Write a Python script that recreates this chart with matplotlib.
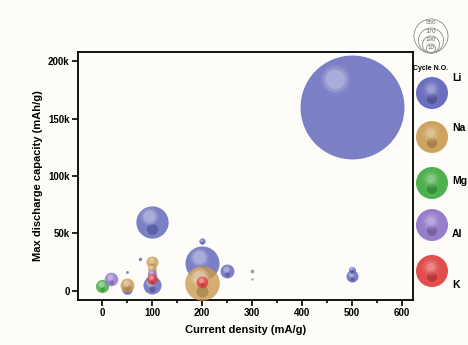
import numpy as np
import matplotlib.pyplot as plt
from matplotlib.colors import to_rgb
from matplotlib.patches import Circle
import matplotlib.transforms as mtransforms

plt.rcParams['font.family'] = ['Liberation Sans', 'DejaVu Sans']
plt.rcParams['font.weight'] = 'bold'

# current density (mA/g), max discharge capacity (mAh/g), cycle number
li_x = [500, 100, 200, 200, 250, 500, 500, 100, 50, 50, 75, 300, 300]
li_y = [160000, 60000, 24000, 43000, 17000, 13000, 18500, 5000, 2000, 16000, 28000, 17000, 10000]
li_cyc = [5600, 540, 600, 20, 100, 75, 25, 170, 60, 4, 6, 8, 3]

na_x = [200, 100, 50, 100]
na_y = [7000, 25000, 5000, 19000]
na_cyc = [620, 75, 100, 40]

mg_x = [0]
mg_y = [4000]
mg_cyc = [90]

al_x = [18, 100]
al_y = [10000, 15000]
al_cyc = [95, 45]

k_x = [200, 100]
k_y = [8000, 10000]
k_cyc = [70, 60]

grey_x = [300, 300]

elements = ['Li', 'Na', 'Mg', 'Al', 'K']
colors = {'Li': '#5b60b8', 'Na': '#c9994f', 'Mg': '#3ca83c', 'Al': '#8d6fc6', 'K': '#e03a3a'}
series = {
    'Li': (li_x, li_y, li_cyc),
    'Na': (na_x, na_y, na_cyc),
    'Mg': (mg_x, mg_y, mg_cyc),
    'Al': (al_x, al_y, al_cyc),
    'K': (k_x, k_y, k_cyc),
}
size_legend = [550, 370, 190, 10]


def lighten(c, f):
    r = np.array(to_rgb(c))
    return tuple(r + (1 - r) * f)


def darken(c, f):
    return tuple(np.array(to_rgb(c)) * (1 - f))


def sphere(ax, x, y, s, color, alpha=0.8):
    # base ball then a few lighter layers to fake the shading
    r_pt = np.sqrt(s) / 2
    big = r_pt > 25
    ax.scatter([x], [y], s=s, color=color, alpha=alpha, lw=0, zorder=3)
    if r_pt < 2:
        return
    if not big:
        dark = mtransforms.offset_copy(ax.transData, fig=ax.figure, x=0, y=-0.45 * r_pt, units='points')
        ax.scatter([x], [y], s=s * 0.12, color=darken(color, 0.25), alpha=0.55, lw=0, zorder=3,
                   transform=dark)
        k, dx, dy = 0.35, -0.2, 0.35
    else:
        k, dx, dy = 0.09, -0.33, 0.55
    for i, f in enumerate([0.3, 0.5, 0.7]):
        tr = mtransforms.offset_copy(ax.transData, fig=ax.figure, x=dx * r_pt, y=dy * r_pt, units='points')
        ax.scatter([x], [y], s=s * k * (1 - 0.3 * i), color=lighten(color, f), alpha=0.4, lw=0,
                   zorder=3, transform=tr)


fig = plt.figure(figsize=(4.68, 3.45), dpi=100)
fig.patch.set_facecolor('#fdfcf9')
ax = fig.add_axes([0.1667, 0.1304, 0.7158, 0.7189])
ax.set_facecolor('#fdfcf9')

for el in elements:
    xs, ys, cs = series[el]
    for x, y, c in sorted(zip(xs, ys, cs), key=lambda t: -t[2]):
        col = colors[el]
        if el == 'Li' and x in grey_x:
            col = '#8a8a9a'
        sphere(ax, x, y, c, col)

ax.set_xlim(-48, 622)
ax.set_ylim(-8000, 208000)
ax.set_xticks(range(0, 601, 100))
ax.set_xticks(range(50, 601, 100), minor=True)
ax.set_yticks(range(0, 200001, 50000))
ax.set_yticklabels(['0', '50k', '100k', '150k', '200k'])
ax.tick_params(direction='out', length=4, width=1.2, labelsize=7, pad=2)
ax.tick_params(which='minor', direction='out', length=2.5, width=1.2)
for sp in ax.spines.values():
    sp.set_linewidth(1.3)
ax.set_xlabel('Current density (mA/g)', fontsize=8, fontweight='bold', labelpad=5)
ax.set_ylabel('Max discharge capacity (mAh/g)', fontsize=8, fontweight='bold', labelpad=4)

# legend panel on the right, in pixel units
lax = fig.add_axes([0, 0, 1, 1], facecolor='none')
lax.set_xlim(0, 468)
lax.set_ylim(345, 0)
lax.axis('off')

radii = [17, 12.5, 8.5, 4.5]
for r, lab in zip(radii, size_legend):
    lax.add_patch(Circle((431, 53 - r), r, fill=False, ec='#8c8c8c', lw=0.6))
    lax.text(431, 53 - 2 * r + 3.5, str(lab), ha='center', va='center', fontsize=4.5,
             color='#666666', fontweight='normal')
lax.text(431, 68, 'Cycle N.O.', ha='center', va='center', fontsize=5, fontweight='bold')

sph_y = [93, 137, 183, 225, 271]
lab_y = [78, 128, 181, 234, 285]
for el, yc, yl in zip(elements, sph_y, lab_y):
    col = colors[el]
    lax.add_patch(Circle((432, yc), 16, color=col, lw=0, alpha=0.9))
    lax.add_patch(Circle((432, yc + 6), 5, color=darken(col, 0.3), lw=0, alpha=0.6))
    for i, f in enumerate([0.25, 0.45, 0.65]):
        lax.add_patch(Circle((431, yc - 4), 9 - 2.5 * i, color=lighten(col, f), lw=0, alpha=0.35))
    lax.text(452, yl, el, ha='left', va='center', fontsize=7.5, fontweight='bold')

fig.savefig('out.png', dpi=100, facecolor=fig.get_facecolor())
